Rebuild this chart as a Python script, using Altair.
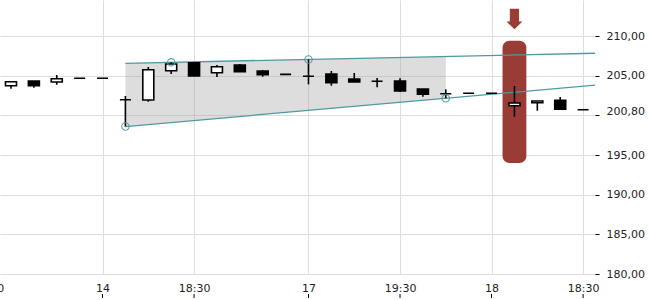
import altair as alt
import pandas as pd

# ---------------- data ----------------
idx = list(range(26))
opens = [203.73, 204.33, 204.20, 204.67, 204.67, 201.97, 201.93, 205.63, 206.63, 205.37,
         206.34, 205.59, 205.17, 204.92, 205.21, 204.58, 204.29, 204.33, 203.32, 202.73,
         202.78, 202.78, 201.21, 201.59, 201.90, 200.70]
closes = [204.24, 203.73, 204.62, 204.67, 204.67, 201.97, 205.75, 206.47, 204.96, 206.13,
          205.50, 205.12, 205.17, 204.92, 204.11, 204.20, 204.29, 203.07, 202.65, 202.73,
          202.78, 202.78, 201.55, 201.81, 200.76, 200.70]
highs = [204.24, 204.33, 205.08, 204.67, 204.67, 202.44, 206.09, 206.68, 206.65, 206.34,
         206.47, 205.71, 205.17, 207.05, 205.59, 205.34, 204.71, 204.67, 203.32, 203.28,
         202.78, 202.78, 203.70, 201.81, 202.31, 200.70]
lows = [203.36, 203.48, 203.86, 204.67, 204.67, 198.59, 201.72, 205.21, 204.96, 204.83,
        205.50, 204.87, 205.17, 203.91, 203.73, 204.20, 203.53, 202.94, 202.35, 202.15,
        202.78, 202.78, 199.83, 200.58, 200.76, 200.70]

x_label_values = [-0.48, 4, 8, 13, 17, 21, 25]
x_labels = ["19:30", "14", "18:30", "17", "19:30", "18", "18:30"]
x_tick_values = [4, 8, 13, 17, 21, 25]
y_tick_values = [180, 185, 190, 195, 200, 205, 210]
last_price = "200,80"

trend_x = [5, 25.6]
upper_y = [206.56, 207.83]
lower_y = [198.59, 203.82]

shade_x = [5, 19]
shade_top = [206.56, 207.42]
shade_bottom = [198.59, 202.15]

pivot_x = [5, 7, 13, 19]
pivot_y = [198.59, 206.68, 207.05, 202.15]

hl_x, hl_x2 = [21.48], [22.52]
hl_top, hl_bottom = [209.4], [194.0]
arrow_x, arrow_y = [22], [212.15]

# ---------------- frames ----------------
candles = pd.DataFrame({"i": idx, "open": opens, "close": closes, "high": highs, "low": lows})
trend = pd.DataFrame({"i": trend_x * 2, "v": upper_y + lower_y,
                      "line": ["upper"] * 2 + ["lower"] * 2})
shade = pd.DataFrame({"i": shade_x, "top": shade_top, "bottom": shade_bottom})
pivots = pd.DataFrame({"i": pivot_x, "v": pivot_y})
hl = pd.DataFrame({"x": hl_x, "x2": hl_x2, "top": hl_top, "bottom": hl_bottom})
arrow = pd.DataFrame({"i": arrow_x, "v": arrow_y})
xticks = pd.DataFrame({"i": x_tick_values})

RED = "#9a3b35"
TEAL = "#4e9aa0"
FONT = "DejaVu Sans"
W, H = 595, 274

x_scale = alt.Scale(domain=[-0.48, 25.52], nice=False, zero=False, padding=0)
y_scale = alt.Scale(domain=[180, 214.54], nice=False, zero=False, padding=0)


def ternary(values, labels):
    expr = "''"
    for v, l in zip(reversed(values), reversed(labels)):
        expr = f"datum.value == {v} ? '{l}' : ({expr})"
    return expr


x_axis_main = alt.Axis(
    values=x_label_values, labelExpr=ternary(x_label_values, x_labels),
    grid=True, gridColor={"condition": {"test": "datum.value < 0", "value": "transparent"},
                          "value": "#dddddd"},
    ticks=False, tickSize=0, domain=False, labelPadding=8,
    labelOffset={"condition": {"test": "datum.value < 0", "value": -12}, "value": 0},
    labelFlush=False, labelOverlap=False, labelFontSize=11, labelFont=FONT,
    labelColor="#222222", title=None)

y_axis = alt.Axis(
    orient="right", values=y_tick_values,
    labelExpr=f"datum.value == 200 ? '{last_price}' : replace(format(datum.value, '.2f'), '.', ',')",
    grid=True, gridColor="#dddddd", domain=False, ticks=True, tickSize=4,
    tickColor="black", tickWidth=1, labelPadding=7, labelFontSize=11, labelFont=FONT,
    labelOffset={"condition": {"test": "datum.value == 200", "value": -4}, "value": 0},
    labelColor="#222222", labelOverlap=False, labelFlush=False, title=None)

X = alt.X("i:Q", scale=x_scale, axis=x_axis_main)

shade_layer = alt.Chart(shade).mark_area(color="#a0a0a0", opacity=0.36).encode(
    x=X, y=alt.Y("top:Q", scale=y_scale, axis=y_axis), y2="bottom:Q")

hl_layer = alt.Chart(hl).mark_rect(color=RED, cornerRadius=7).encode(
    x=alt.X("x:Q", scale=x_scale, axis=x_axis_main), x2="x2:Q",
    y=alt.Y("top:Q", scale=y_scale, axis=y_axis), y2="bottom:Q")

trend_layer = alt.Chart(trend).mark_line(color=TEAL, strokeWidth=1.3, clip=True).encode(
    x=X, y=alt.Y("v:Q", scale=y_scale, axis=y_axis), detail="line:N")

wick_layer = alt.Chart(candles).mark_rule(color="black", strokeWidth=1.6).encode(
    x=X, y=alt.Y("low:Q", scale=y_scale, axis=y_axis), y2="high:Q")

body_layer = alt.Chart(candles).mark_bar(size=11, stroke="black", strokeWidth=1.6).encode(
    x=X, y=alt.Y("open:Q", scale=y_scale, axis=y_axis), y2="close:Q",
    fill=alt.condition("datum.close >= datum.open", alt.value("white"), alt.value("black")))

pivot_layer = alt.Chart(pivots).mark_point(
    shape="circle", filled=False, size=55, color=TEAL, strokeWidth=1.1, opacity=0.9).encode(
    x=X, y=alt.Y("v:Q", scale=y_scale, axis=y_axis))

arrow_path = "M-0.45,-1 L0.45,-1 L0.45,0.25 L0.78,0.25 L0,1 L-0.78,0.25 L-0.45,0.25 Z"
arrow_layer = alt.Chart(arrow).mark_point(
    shape=arrow_path, filled=True, size=420, color=RED, opacity=1).encode(
    x=X, y=alt.Y("v:Q", scale=y_scale, axis=y_axis))

# small x-axis tick marks drawn below the labels
tick_layer = alt.Chart(xticks).mark_rule(color="black", strokeWidth=1, clip=False).encode(
    x=X, y=alt.value(H + 20), y2=alt.value(H + 24))

chart = alt.layer(
    shade_layer, hl_layer, trend_layer, wick_layer, body_layer, pivot_layer, arrow_layer,
    tick_layer
).properties(
    width=W, height=H,
    autosize=alt.AutoSizeParams(type="none"),
    padding={"left": 0, "top": 0, "right": 55, "bottom": 26},
    background="white",
).configure_view(stroke=None)

chart.save("out.html", embed_options={"renderer": "svg", "actions": False})
